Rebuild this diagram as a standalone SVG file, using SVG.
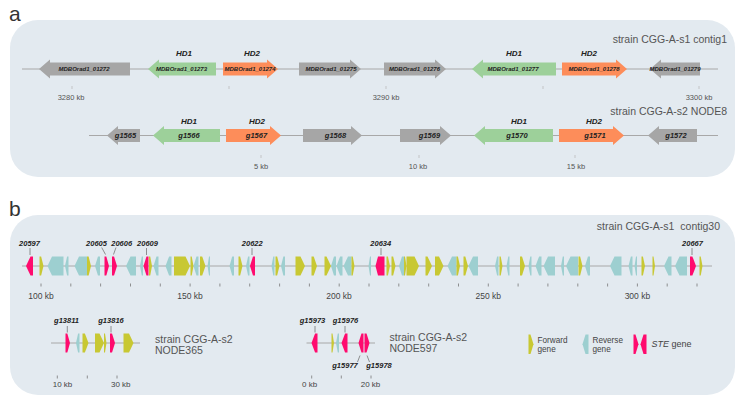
<svg xmlns="http://www.w3.org/2000/svg" width="745" height="403" viewBox="0 0 745 403">
<style>
text{font-family:"Liberation Sans",Arial,sans-serif}
.bg{fill:#e3eaf0}
.ax{stroke:#a8a8a8;stroke-width:1;fill:none}
.tk{stroke:#777;stroke-width:0.8}
.tkf{stroke:#bbb;stroke-width:0.8}
.ld{stroke:#777;stroke-width:0.8;fill:none}
.gy{fill:#a6a6a6}.gr{fill:#9dd09a}.or{fill:#fd8d5a}
.y{fill:#c8c833}.t{fill:#9dcfd0}.m{fill:#ff0b6e}
.pl{font-size:21px;fill:#333}
.st{font-size:10.5px;fill:#555}
.gl{font-size:6px;font-weight:bold;font-style:italic;fill:#222;text-anchor:middle}
.gn{font-size:7.5px;font-weight:bold;font-style:italic;fill:#222;text-anchor:middle}
.hd{font-size:8px;font-weight:bold;font-style:italic;fill:#222;text-anchor:middle}
.kb{font-size:7.5px;fill:#555;text-anchor:middle}
.kb2{font-size:8.5px;fill:#444;text-anchor:middle}
.kb3{font-size:8px;fill:#444}
.bl{font-size:7.5px;font-weight:bold;font-style:italic;fill:#222;text-anchor:middle}
.lg{font-size:8.2px;fill:#444}
</style>
<text class="pl" x="9" y="21">a</text>
<rect class="bg" x="10" y="20" width="725" height="157" rx="28" ry="28"/>
<text class="pl" x="9" y="216">b</text>
<rect class="bg" x="10" y="215" width="725" height="180" rx="28" ry="28"/>

<g id="connectors">
<line class="ax" x1="22" y1="69" x2="718" y2="69"/>
<line class="ax" x1="89" y1="135.5" x2="718" y2="135.5"/>
<line class="ax" x1="22" y1="266" x2="712" y2="266"/>
<line class="ax" x1="51" y1="343" x2="140" y2="343"/>
<line class="ax" x1="306.5" y1="343" x2="375" y2="343"/>
<line class="ld" x1="30" y1="248" x2="30" y2="255"/>
<line class="ld" x1="101.7" y1="247.5" x2="105.5" y2="254.5"/>
<line class="ld" x1="116" y1="247.5" x2="113.5" y2="254.5"/>
<line class="ld" x1="146.5" y1="248" x2="146.5" y2="255"/>
<line class="ld" x1="252" y1="248" x2="252" y2="255"/>
<line class="ld" x1="381" y1="248" x2="381" y2="255"/>
<line class="ld" x1="692" y1="248" x2="692" y2="255"/>
<line class="ld" x1="67.3" y1="326" x2="67.3" y2="332.5"/>
<line class="ld" x1="111" y1="326" x2="111" y2="332.5"/>
<line class="ld" x1="315" y1="326" x2="315" y2="332.5"/>
<line class="ld" x1="345" y1="326" x2="345" y2="332.5"/>
<line class="ld" x1="360" y1="355.5" x2="357.5" y2="362"/>
<line class="ld" x1="367" y1="355.5" x2="369.5" y2="362"/>
</g>

<g id="scale-a1">
<line class="tkf" x1="72" y1="86" x2="72" y2="89"/><line class="tkf" x1="229" y1="86" x2="229" y2="89"/><line class="tkf" x1="386" y1="86" x2="386" y2="89"/><line class="tkf" x1="543" y1="86" x2="543" y2="89"/><line class="tkf" x1="699" y1="86" x2="699" y2="89"/>
<text class="kb" x="71" y="99.5">3280 kb</text><text class="kb" x="386" y="99.5">3290 kb</text><text class="kb" x="699" y="99.5">3300 kb</text>
</g>
<g id="scale-a2">
<line class="tkf" x1="261" y1="155" x2="261" y2="158"/><line class="tkf" x1="419" y1="155" x2="419" y2="158"/><line class="tkf" x1="575" y1="155" x2="575" y2="158"/>
<text class="kb" x="261" y="168.5">5 kb</text><text class="kb" x="418" y="168.5">10 kb</text><text class="kb" x="576" y="168.5">15 kb</text>
</g>
<text class="st" x="727" y="43" text-anchor="end">strain CGG-A-s1 contig1</text>
<text class="st" x="727" y="115" text-anchor="end">strain CGG-A-s2 NODE8</text>

<g id="MDBOrad1_01272"><polygon class="gy" points="39,69 50,59.5 50,62.5 130,62.5 130,75.5 50,75.5 50,78.5"/><text class="gl" x="84" y="71">MDBOrad1_01272</text></g>
<g id="MDBOrad1_01273"><polygon class="gr" points="148,69 159,59.5 159,62.5 216,62.5 216,75.5 159,75.5 159,78.5"/><text class="gl" x="181.5" y="71">MDBOrad1_01273</text><text class="hd" x="184" y="55.5">HD1</text></g>
<g id="MDBOrad1_01274"><polygon class="or" points="223,62.5 267,62.5 267,59.5 278,69 267,78.5 267,75.5 223,75.5"/><text class="gl" x="250" y="71">MDBOrad1_01274</text><text class="hd" x="252" y="55.5">HD2</text></g>
<g id="MDBOrad1_01275"><polygon class="gy" points="299,62.5 350,62.5 350,59.5 361,69 350,78.5 350,75.5 299,75.5"/><text class="gl" x="331" y="71">MDBOrad1_01275</text></g>
<g id="MDBOrad1_01276"><polygon class="gy" points="384,62.5 435,62.5 435,59.5 446,69 435,78.5 435,75.5 384,75.5"/><text class="gl" x="414.5" y="71">MDBOrad1_01276</text></g>
<g id="MDBOrad1_01277"><polygon class="gr" points="472,69 483,59.5 483,62.5 556,62.5 556,75.5 483,75.5 483,78.5"/><text class="gl" x="513" y="71">MDBOrad1_01277</text><text class="hd" x="514" y="55.5">HD1</text></g>
<g id="MDBOrad1_01278"><polygon class="or" points="562,62.5 616,62.5 616,59.5 627,69 616,78.5 616,75.5 562,75.5"/><text class="gl" x="594" y="71">MDBOrad1_01278</text><text class="hd" x="589" y="55.5">HD2</text></g>
<g id="MDBOrad1_01279"><polygon class="gy" points="650,69 661,59.5 661,62.5 700,62.5 700,75.5 661,75.5 661,78.5"/><text class="gl" x="675" y="71">MDBOrad1_01279</text></g>

<g id="g1565"><polygon class="gy" points="107,135.5 118,126 118,129 140,129 140,142 118,142 118,145"/><text class="gn" x="125.5" y="138">g1565</text></g>
<g id="g1566"><polygon class="gr" points="153,135.5 164,126 164,129 220,129 220,142 164,142 164,145"/><text class="gn" x="189" y="138">g1566</text><text class="hd" x="189" y="124">HD1</text></g>
<g id="g1567"><polygon class="or" points="226,129 270,129 270,126 281,135.5 270,145 270,142 226,142"/><text class="gn" x="256.5" y="138">g1567</text><text class="hd" x="257" y="124">HD2</text></g>
<g id="g1568"><polygon class="gy" points="303,129 351,129 351,126 362,135.5 351,145 351,142 303,142"/><text class="gn" x="335.5" y="138">g1568</text></g>
<g id="g1569"><polygon class="gy" points="400,129 440,129 440,126 451,135.5 440,145 440,142 400,142"/><text class="gn" x="429.5" y="138">g1569</text></g>
<g id="g1570"><polygon class="gr" points="474,135.5 485,126 485,129 553,129 553,142 485,142 485,145"/><text class="gn" x="517" y="138">g1570</text><text class="hd" x="519" y="124">HD1</text></g>
<g id="g1571"><polygon class="or" points="559,129 613,129 613,126 624,135.5 613,145 613,142 559,142"/><text class="gn" x="595" y="138">g1571</text><text class="hd" x="594" y="124">HD2</text></g>
<g id="g1572"><polygon class="gy" points="648,135.5 659,126 659,129 697,129 697,142 659,142 659,145"/><text class="gn" x="676" y="138">g1572</text></g>

<g id="scale-b1">
<path class="tk" d="M41 283.5v3M70.8 283.5v3M100.6 283.5v3M130.5 283.5v3M160.3 283.5v3M190.1 283.5v3M219.9 283.5v3M249.7 283.5v3M279.6 283.5v3M309.4 283.5v3M339.2 283.5v3M369 283.5v3M398.8 283.5v3M428.7 283.5v3M458.5 283.5v3M488.3 283.5v3M518.1 283.5v3M547.9 283.5v3M577.8 283.5v3M607.6 283.5v3M637.4 283.5v3M667.2 283.5v3M697 283.5v3"/>
<text class="kb2" x="41" y="299">100 kb</text><text class="kb2" x="190" y="299">150 kb</text><text class="kb2" x="339" y="299">200 kb</text><text class="kb2" x="488.3" y="299">250 kb</text><text class="kb2" x="637.4" y="299">300 kb</text>
</g>
<text class="st" x="720" y="230" text-anchor="end" xml:space="preserve">strain CGG-A-s1  contig30</text>

<g id="contig30-genes">
<g id="c30-20597"><polygon class="m" points="26,266 30.5,256.5 33,256.5 33,275.5 30.5,275.5"/><text class="bl" x="29.5" y="245.5">20597</text></g>
<g id="c30-g02"><polygon class="y" points="39.5,256.5 41.1,256.5 43.5,266 41.1,275.5 39.5,275.5"/></g>
<g id="c30-g03"><polygon class="t" points="47.5,266 52,256.5 63.5,256.5 63.5,275.5 52,275.5"/></g>
<g id="c30-g04"><polygon class="t" points="65,266 67.1,256.5 68.5,256.5 68.5,275.5 67.1,275.5"/></g>
<g id="c30-g05"><polygon class="t" points="74.5,266 79,256.5 87,256.5 87,275.5 79,275.5"/></g>
<g id="c30-g06"><polygon class="y" points="87,256.5 88.6,256.5 91,266 88.6,275.5 87,275.5"/></g>
<g id="c30-g07"><polygon class="t" points="95,266 98,256.5 100,256.5 100,275.5 98,275.5"/></g>
<g id="c30-20605"><polygon class="m" points="104.5,256.5 106.3,256.5 109,266 106.3,275.5 104.5,275.5"/><text class="bl" x="96.5" y="245.5">20605</text></g>
<g id="c30-20606"><polygon class="m" points="112,256.5 114,256.5 117,266 114,275.5 112,275.5"/><text class="bl" x="121.7" y="245.5">20606</text></g>
<g id="c30-g10"><polygon class="t" points="126,266 130.5,256.5 136,256.5 136,275.5 130.5,275.5"/></g>
<g id="c30-g11"><polygon class="t" points="140,266 141.8,256.5 143,256.5 143,275.5 141.8,275.5"/></g>
<g id="c30-20609"><polygon class="m" points="143.5,266 146.5,256.5 148.5,256.5 148.5,275.5 146.5,275.5"/><text class="bl" x="147.5" y="245.5">20609</text></g>
<g id="c30-g13"><polygon class="y" points="149,256.5 150.2,256.5 152,266 150.2,275.5 149,275.5"/></g>
<g id="c30-g14"><polygon class="t" points="153.5,266 156.5,256.5 158.5,256.5 158.5,275.5 156.5,275.5"/></g>
<g id="c30-g15"><polygon class="t" points="165.5,266 169.1,256.5 171.5,256.5 171.5,275.5 169.1,275.5"/></g>
<g id="c30-g16"><polygon class="y" points="174,256.5 185.5,256.5 190,266 185.5,275.5 174,275.5"/></g>
<g id="c30-g17"><polygon class="y" points="190.5,256.5 191.7,256.5 193.5,266 191.7,275.5 190.5,275.5"/></g>
<g id="c30-g18"><polygon class="t" points="193.5,266 196.5,256.5 198.5,256.5 198.5,275.5 196.5,275.5"/></g>
<g id="c30-g19"><polygon class="y" points="200,256.5 202.2,256.5 205.5,266 202.2,275.5 200,275.5"/></g>
<g id="c30-g20"><polygon class="t" points="207.5,266 209,256.5 210,256.5 210,275.5 209,275.5"/></g>
<g id="c30-g21"><polygon class="t" points="229.5,266 232.2,256.5 234,256.5 234,275.5 232.2,275.5"/></g>
<g id="c30-g22"><polygon class="y" points="238.5,256.5 240.1,256.5 242.5,266 240.1,275.5 238.5,275.5"/></g>
<g id="c30-g23"><polygon class="t" points="246,266 248.1,256.5 249.5,256.5 249.5,275.5 248.1,275.5"/></g>
<g id="c30-20622"><polygon class="m" points="250,266 253,256.5 255,256.5 255,275.5 253,275.5"/><text class="bl" x="252.3" y="245.5">20622</text></g>
<g id="c30-g25"><polygon class="t" points="271.5,266 273.3,256.5 274.5,256.5 274.5,275.5 273.3,275.5"/></g>
<g id="c30-g26"><polygon class="y" points="275.5,256.5 277.1,256.5 279.5,266 277.1,275.5 275.5,275.5"/></g>
<g id="c30-g27"><polygon class="t" points="281,266 283.4,256.5 285,256.5 285,275.5 283.4,275.5"/></g>
<g id="c30-g28"><polygon class="y" points="295.5,256.5 300.5,256.5 305,266 300.5,275.5 295.5,275.5"/></g>
<g id="c30-g29"><polygon class="y" points="311.5,256.5 313.7,256.5 317,266 313.7,275.5 311.5,275.5"/></g>
<g id="c30-g30"><polygon class="y" points="324.5,256.5 326.5,256.5 331,266 326.5,275.5 324.5,275.5"/></g>
<g id="c30-g31"><polygon class="t" points="331,266 334,256.5 336,256.5 336,275.5 334,275.5"/></g>
<g id="c30-g32"><polygon class="t" points="336.5,266 340.1,256.5 342.5,256.5 342.5,275.5 340.1,275.5"/></g>
<g id="c30-g33"><polygon class="t" points="343.5,266 348,256.5 351.5,256.5 351.5,275.5 348,275.5"/></g>
<g id="c30-g34"><polygon class="y" points="351.5,256.5 352.7,256.5 354.5,266 352.7,275.5 351.5,275.5"/></g>
<g id="c30-g35"><polygon class="t" points="368.5,266 370,256.5 371,256.5 371,275.5 370,275.5"/></g>
<g id="c30-20634"><polygon class="m" points="375.5,266 378,256.5 384.5,256.5 384.5,275.5 378,275.5"/><text class="bl" x="380.8" y="245.5">20634</text></g>
<g id="c30-g37"><polygon class="y" points="386.5,256.5 387.9,256.5 390,266 387.9,275.5 386.5,275.5"/></g>
<g id="c30-g38"><polygon class="y" points="391.5,256.5 393.1,256.5 395.5,266 393.1,275.5 391.5,275.5"/></g>
<g id="c30-g39"><polygon class="t" points="399,266 402,256.5 404,256.5 404,275.5 402,275.5"/></g>
<g id="c30-g40"><polygon class="y" points="404,256.5 405,256.5 406.5,266 405,275.5 404,275.5"/></g>
<g id="c30-g41"><polygon class="y" points="406.5,256.5 414.5,256.5 419,266 414.5,275.5 406.5,275.5"/></g>
<g id="c30-g42"><polygon class="y" points="425.5,256.5 427.5,256.5 432,266 427.5,275.5 425.5,275.5"/></g>
<g id="c30-g43"><polygon class="y" points="435,256.5 439,256.5 443.5,266 439,275.5 435,275.5"/></g>
<g id="c30-g44"><polygon class="t" points="447.5,266 452,256.5 456.5,256.5 456.5,275.5 452,275.5"/></g>
<g id="c30-g45"><polygon class="y" points="456.5,256.5 457.9,256.5 460,266 457.9,275.5 456.5,275.5"/></g>
<g id="c30-g46"><polygon class="y" points="463.5,256.5 465.3,256.5 468,266 465.3,275.5 463.5,275.5"/></g>
<g id="c30-g47"><polygon class="t" points="468.5,266 473,256.5 478,256.5 478,275.5 473,275.5"/></g>
<g id="c30-g48"><polygon class="t" points="495,266 497.1,256.5 498.5,256.5 498.5,275.5 497.1,275.5"/></g>
<g id="c30-g49"><polygon class="y" points="499.5,256.5 500.7,256.5 502.5,266 500.7,275.5 499.5,275.5"/></g>
<g id="c30-g50"><polygon class="t" points="506.5,266 508.3,256.5 509.5,256.5 509.5,275.5 508.3,275.5"/></g>
<g id="c30-g51"><polygon class="y" points="520,256.5 522,256.5 525,266 522,275.5 520,275.5"/></g>
<g id="c30-g52"><polygon class="t" points="528.5,266 530.3,256.5 531.5,256.5 531.5,275.5 530.3,275.5"/></g>
<g id="c30-g53"><polygon class="t" points="535.5,266 539.1,256.5 541.5,256.5 541.5,275.5 539.1,275.5"/></g>
<g id="c30-g54"><polygon class="t" points="543.5,266 548,256.5 555,256.5 555,275.5 548,275.5"/></g>
<g id="c30-g55"><polygon class="t" points="561,266 562.8,256.5 564,256.5 564,275.5 562.8,275.5"/></g>
<g id="c30-g56"><polygon class="t" points="566,266 570.5,256.5 578,256.5 578,275.5 570.5,275.5"/></g>
<g id="c30-g57"><polygon class="y" points="578.5,256.5 580.1,256.5 582.5,266 580.1,275.5 578.5,275.5"/></g>
<g id="c30-g58"><polygon class="t" points="585,266 588,256.5 590,256.5 590,275.5 588,275.5"/></g>
<g id="c30-g59"><polygon class="t" points="610,266 614.5,256.5 621.5,256.5 621.5,275.5 614.5,275.5"/></g>
<g id="c30-g60"><polygon class="t" points="628.5,266 630.9,256.5 632.5,256.5 632.5,275.5 630.9,275.5"/></g>
<g id="c30-g61"><polygon class="t" points="634.5,266 636,256.5 637,256.5 637,275.5 636,275.5"/></g>
<g id="c30-g62"><polygon class="y" points="641.5,256.5 642.9,256.5 645,266 642.9,275.5 641.5,275.5"/></g>
<g id="c30-g63"><polygon class="y" points="652.5,256.5 653.5,256.5 655,266 653.5,275.5 652.5,275.5"/></g>
<g id="c30-g64"><polygon class="t" points="664,266 668.5,256.5 671.5,256.5 671.5,275.5 668.5,275.5"/></g>
<g id="c30-g65"><polygon class="t" points="675,266 679.5,256.5 687,256.5 687,275.5 679.5,275.5"/></g>
<g id="c30-20667"><polygon class="m" points="690,256.5 692.4,256.5 696,266 692.4,275.5 690,275.5"/><text class="bl" x="692.5" y="245.5">20667</text></g>
<g id="c30-g67"><polygon class="y" points="699.5,256.5 700.7,256.5 702.5,266 700.7,275.5 699.5,275.5"/></g>
</g>

<g id="node365-genes">
<g id="g13811"><polygon class="m" points="65.5,333.5 67.3,333.5 70,343 67.3,352.5 65.5,352.5"/><text class="bl" x="66.5" y="322.5">g13811</text></g>
<g id="n365-g2"><polygon class="t" points="76,343 78.1,333.5 79.5,333.5 79.5,352.5 78.1,352.5"/></g>
<g id="n365-g3"><polygon class="y" points="82.5,333.5 84.9,333.5 88.5,343 84.9,352.5 82.5,352.5"/></g>
<g id="n365-g4"><polygon class="y" points="95,333.5 99.5,333.5 104,343 99.5,352.5 95,352.5"/></g>
<g id="n365-g5"><polygon class="y" points="104,333.5 105,333.5 106.5,343 105,352.5 104,352.5"/></g>
<g id="g13816"><polygon class="m" points="110,333.5 112,333.5 115,343 112,352.5 110,352.5"/><text class="bl" x="111" y="322.5">g13816</text></g>
<g id="n365-g7"><polygon class="y" points="123.5,333.5 129,333.5 133.5,343 129,352.5 123.5,352.5"/></g>
</g>
<g id="scale-n365">
<path class="tk" d="M57.3 375.5v3M87.3 375.5v3M117 375.5v3"/>
<text class="kb3" x="52.7" y="387">10 kb</text><text class="kb3" x="111" y="387">30 kb</text>
</g>
<text class="st" x="155" y="342.5">strain CGG-A-s2</text>
<text class="st" x="155" y="353.5">NODE365</text>

<g id="node597-genes">
<g id="g15973"><polygon class="m" points="311.5,343 315.1,333.5 317.5,333.5 317.5,352.5 315.1,352.5"/><text class="bl" x="312.5" y="322.5">g15973</text></g>
<g id="n597-g2"><polygon class="y" points="331.5,333.5 332.5,333.5 334,343 332.5,352.5 331.5,352.5"/></g>
<g id="n597-g3"><polygon class="t" points="336,343 337.8,333.5 339,333.5 339,352.5 337.8,352.5"/></g>
<g id="g15976"><polygon class="m" points="341.5,343 345.1,333.5 347.5,333.5 347.5,352.5 345.1,352.5"/><text class="bl" x="345.5" y="322.5">g15976</text></g>
<g id="g15977"><polygon class="m" points="358.5,343 361.5,333.5 363.5,333.5 363.5,352.5 361.5,352.5"/><text class="bl" x="345" y="368">g15977</text></g>
<g id="g15978"><polygon class="m" points="364.5,333.5 366.5,333.5 369.5,343 366.5,352.5 364.5,352.5"/><text class="bl" x="379" y="368">g15978</text></g>
</g>
<g id="scale-n597">
<path class="tk" d="M311.7 375.5v3M341.3 375.5v3M371 375.5v3"/>
<text class="kb3" x="302" y="387">0 kb</text><text class="kb3" x="360.7" y="387">20 kb</text>
</g>
<text class="st" x="389.5" y="341">strain CGG-A-s2</text>
<text class="st" x="389.5" y="352">NODE597</text>

<g id="legend">
<polygon class="y" points="528.5,334.5 530.5,334.5 533.5,344.3 530.5,354 528.5,354"/>
<text class="lg" x="537.5" y="342.5">Forward</text><text class="lg" x="537.5" y="352">gene</text>
<polygon class="t" points="582.5,344.3 585.5,334.5 588.5,334.5 588.5,354 585.5,354"/>
<text class="lg" x="592.5" y="342.5">Reverse</text><text class="lg" x="592.5" y="352">gene</text>
<polygon class="m" points="633.5,334.5 635.5,334.5 638.5,344.3 635.5,354 633.5,354"/>
<polygon class="m" points="640.5,344.3 643.5,334.5 646.5,334.5 646.5,354 643.5,354"/>
<text class="lg" x="651.5" y="347" style="font-size:9px"><tspan font-style="italic">STE</tspan> gene</text>
</g>
</svg>
